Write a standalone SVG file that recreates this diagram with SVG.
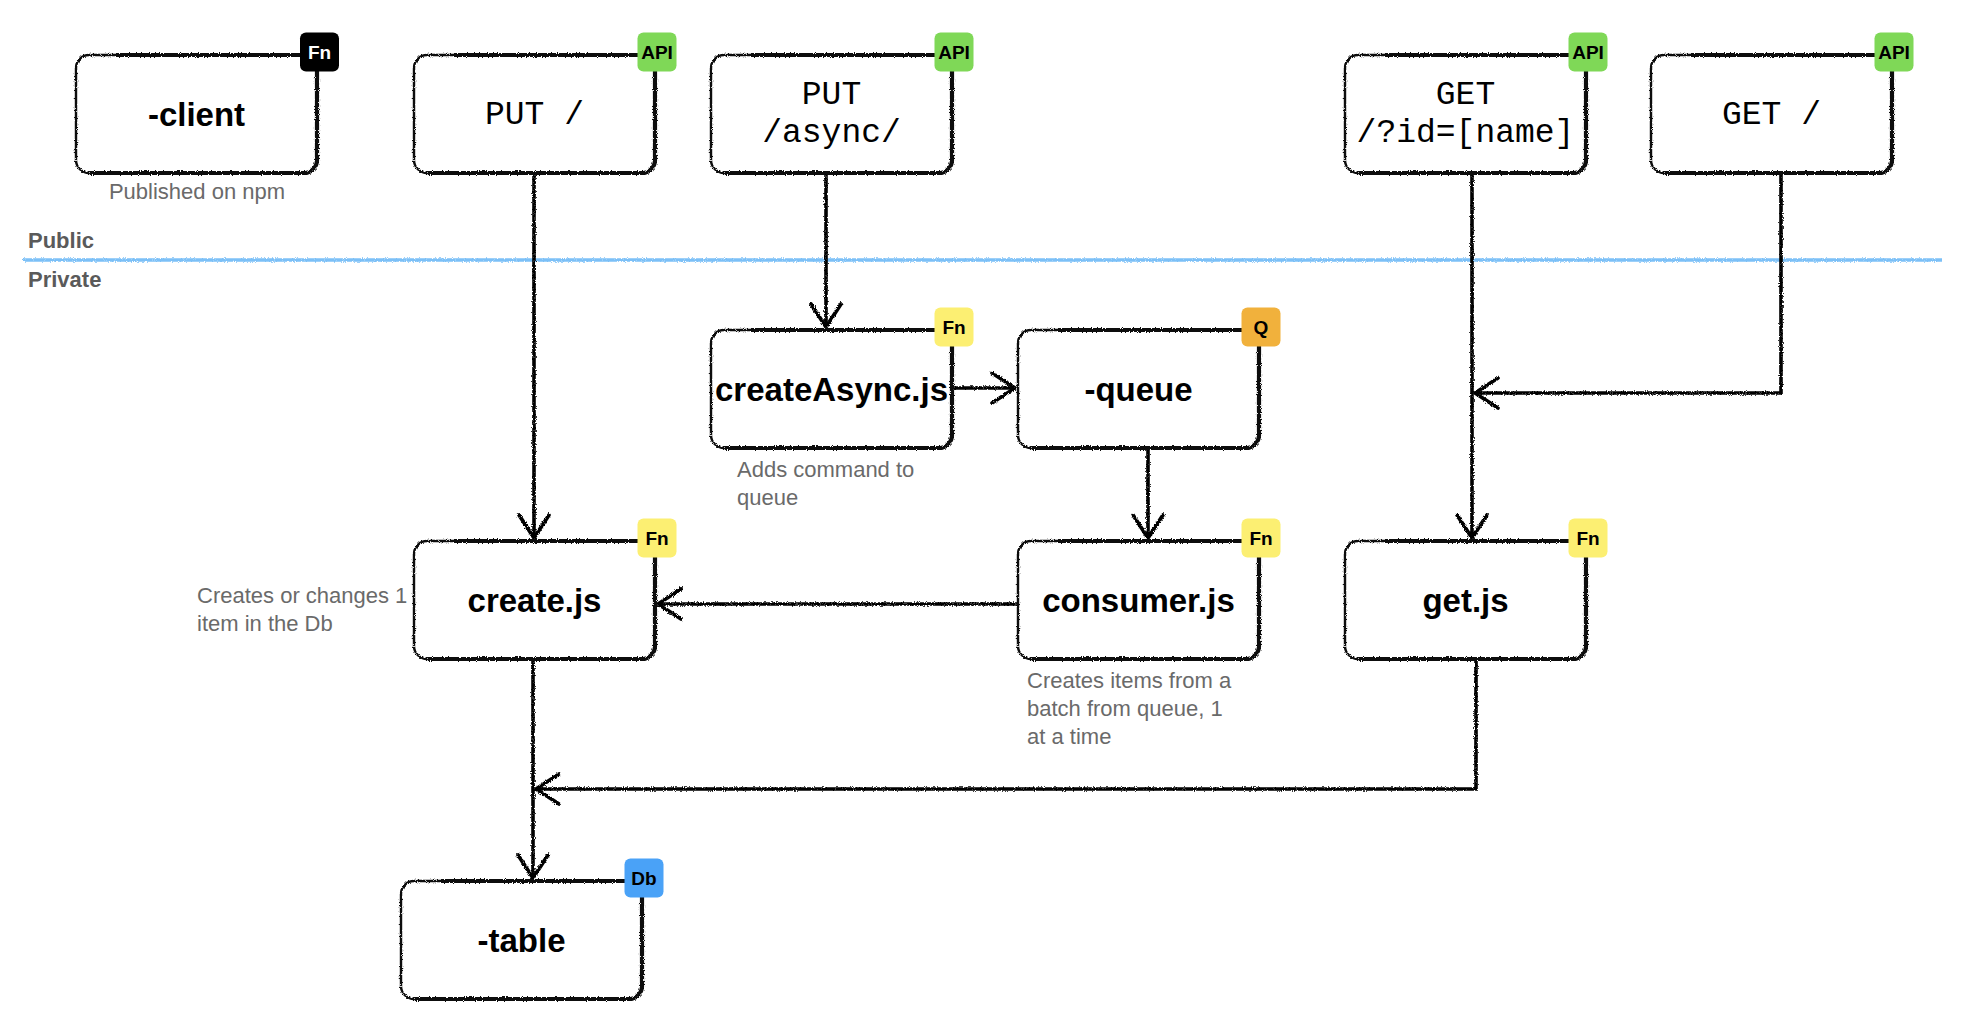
<svg xmlns="http://www.w3.org/2000/svg" xmlns:xlink="http://www.w3.org/1999/xlink" width="1970" height="1018" viewBox="0 0 1970 1018">
  <defs>
    <!-- pencil-like roughness for outlines and connectors -->
    <filter id="rough" filterUnits="userSpaceOnUse" x="-50" y="-50" width="2070" height="1118">
      <feTurbulence type="fractalNoise" baseFrequency="0.9" numOctaves="2" seed="4" result="noise"/>
      <feDisplacementMap in="SourceGraphic" in2="noise" scale="3.4" xChannelSelector="R" yChannelSelector="G"/>
    </filter>
    <marker id="arrow" markerUnits="userSpaceOnUse" markerWidth="40" markerHeight="40" refX="0" refY="0" viewBox="-30 -20 40 40" orient="auto" overflow="visible">
      <path d="M-23,-15 L0,0 L-23,15" fill="none" stroke="#000" stroke-width="3.8" stroke-linecap="round" stroke-linejoin="round"/>
    </marker>
    <!-- sketched node box, 241 x 118 -->
    <g id="box">
      <rect x="0" y="0" width="241" height="118" rx="13" fill="#fff"/>
      <g filter="url(#rough)" fill="none" stroke="#111">
        <rect x="0" y="0" width="241" height="118" rx="13" stroke-width="2.4"/>
        <path d="M40,0 H228 A13,13 0 0 1 241,13 V105 A13,13 0 0 1 228,118 H13" stroke-width="4.2"/>
      </g>
    </g>
    <style>
      .title { font-family: "Liberation Sans", Arial, sans-serif; font-weight: bold; font-size: 33px; fill: #000; text-anchor: middle; }
      .mono { font-family: "Liberation Mono", "Courier New", monospace; font-size: 33px; fill: #000; text-anchor: middle; }
      .badge { font-family: "Liberation Sans", Arial, sans-serif; font-weight: bold; font-size: 19px; fill: #000; text-anchor: middle; }
      .note { font-family: "Liberation Sans", Arial, sans-serif; font-size: 22px; fill: #6a6a6a; }
      .zone { font-family: "Liberation Sans", Arial, sans-serif; font-weight: bold; font-size: 22px; fill: #5a5a5a; }
      .api { fill: #7fd857; }
      .fn { fill: #fcef72; }
      .fnDark { fill: #000; }
      .queue { fill: #f1b13c; }
      .db { fill: #4aa2f7; }
      .conn { fill: none; stroke: #000; stroke-width: 3.6; stroke-linejoin: miter; marker-end: url(#arrow); }
    </style>
  </defs>

  <rect width="1970" height="1018" fill="#fff"/>

  <!-- public / private boundary -->
  <g id="boundary">
    <text class="zone" x="28" y="248">Public</text>
    <line x1="23" y1="260" x2="1942" y2="260" stroke="#7cc0f7" stroke-width="3.6" filter="url(#rough)"/>
    <text class="zone" x="28" y="287">Private</text>
  </g>

  <!-- connectors -->
  <g id="connectors" filter="url(#rough)">
    <path class="conn" d="M534,173 V538"/>
    <path class="conn" d="M826,173 V327"/>
    <path class="conn" d="M951,388 H1015"/>
    <path class="conn" d="M1148,449 V538"/>
    <path class="conn" d="M1018,604 H658"/>
    <path class="conn" d="M1472,173 V538"/>
    <path class="conn" d="M1781,173 V393 H1475"/>
    <path class="conn" d="M1476,660 V789 H536"/>
    <path class="conn" d="M533,660 V878"/>
  </g>

  <!-- nodes -->
  <g id="client">
    <use xlink:href="#box" x="76" y="55"/>
    <rect class="fnDark" x="300" y="32.5" width="39" height="39" rx="6"/>
    <text class="badge" x="319.5" y="59" style="fill:#fff">Fn</text>
    <text class="title" x="196.5" y="126">-client</text>
    <text class="note" x="197" y="199" text-anchor="middle">Published on npm</text>
  </g>

  <g id="put-root">
    <use xlink:href="#box" x="414" y="55"/>
    <rect class="api" x="637.5" y="32.5" width="39" height="39" rx="6"/>
    <text class="badge" x="657" y="59">API</text>
    <text class="mono" x="534.5" y="124">PUT /</text>
  </g>

  <g id="put-async">
    <use xlink:href="#box" x="711" y="55"/>
    <rect class="api" x="934.5" y="32.5" width="39" height="39" rx="6"/>
    <text class="badge" x="954" y="59">API</text>
    <text class="mono" x="831.5" y="104">PUT</text>
    <text class="mono" x="831.5" y="142">/async/</text>
  </g>

  <g id="get-by-id">
    <use xlink:href="#box" x="1345" y="55"/>
    <rect class="api" x="1568.5" y="32.5" width="39" height="39" rx="6"/>
    <text class="badge" x="1588" y="59">API</text>
    <text class="mono" x="1465.5" y="104">GET</text>
    <text class="mono" x="1465.5" y="142">/?id=[name]</text>
  </g>

  <g id="get-root">
    <use xlink:href="#box" x="1651" y="55"/>
    <rect class="api" x="1874.5" y="32.5" width="39" height="39" rx="6"/>
    <text class="badge" x="1894" y="59">API</text>
    <text class="mono" x="1771.5" y="124">GET /</text>
  </g>

  <g id="create-async">
    <use xlink:href="#box" x="711" y="330"/>
    <rect class="fn" x="934.5" y="307.5" width="39" height="39" rx="6"/>
    <text class="badge" x="954" y="334">Fn</text>
    <text class="title" x="831.5" y="401">createAsync.js</text>
    <text class="note" x="737" y="477">Adds command to</text>
    <text class="note" x="737" y="505">queue</text>
  </g>

  <g id="queue">
    <use xlink:href="#box" x="1018" y="330"/>
    <rect class="queue" x="1241.5" y="307.5" width="39" height="39" rx="6"/>
    <text class="badge" x="1261" y="334">Q</text>
    <text class="title" x="1138.5" y="401">-queue</text>
  </g>

  <g id="create">
    <use xlink:href="#box" x="414" y="541"/>
    <rect class="fn" x="637.5" y="518.5" width="39" height="39" rx="6"/>
    <text class="badge" x="657" y="545">Fn</text>
    <text class="title" x="534.5" y="612">create.js</text>
    <text class="note" x="197" y="603">Creates or changes 1</text>
    <text class="note" x="197" y="631">item in the Db</text>
  </g>

  <g id="consumer">
    <use xlink:href="#box" x="1018" y="541"/>
    <rect class="fn" x="1241.5" y="518.5" width="39" height="39" rx="6"/>
    <text class="badge" x="1261" y="545">Fn</text>
    <text class="title" x="1138.5" y="612">consumer.js</text>
    <text class="note" x="1027" y="688">Creates items from a</text>
    <text class="note" x="1027" y="716">batch from queue, 1</text>
    <text class="note" x="1027" y="744">at a time</text>
  </g>

  <g id="get">
    <use xlink:href="#box" x="1345" y="541"/>
    <rect class="fn" x="1568.5" y="518.5" width="39" height="39" rx="6"/>
    <text class="badge" x="1588" y="545">Fn</text>
    <text class="title" x="1465.5" y="612">get.js</text>
  </g>

  <g id="table">
    <use xlink:href="#box" x="401" y="881"/>
    <rect class="db" x="624.5" y="858.5" width="39" height="39" rx="6"/>
    <text class="badge" x="644" y="885">Db</text>
    <text class="title" x="521.5" y="952">-table</text>
  </g>
</svg>
